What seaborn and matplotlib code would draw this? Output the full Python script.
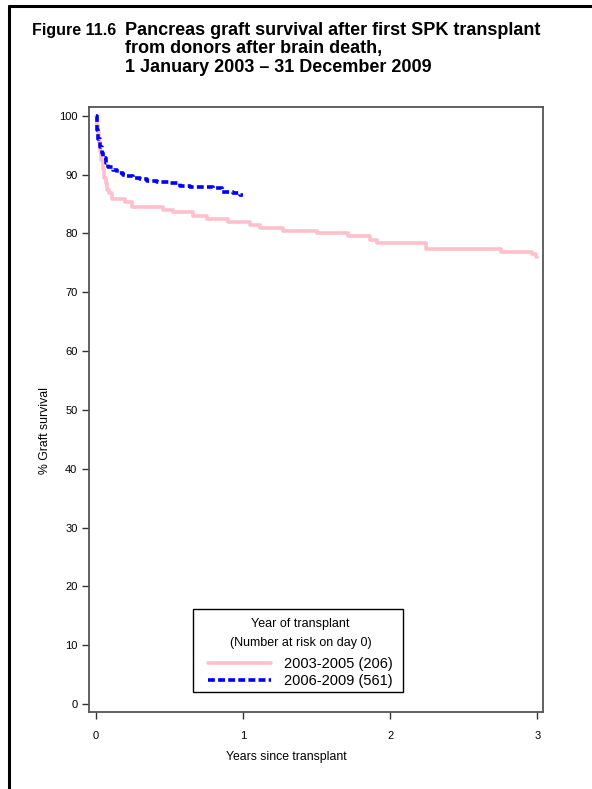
import matplotlib
matplotlib.use("Agg")
import matplotlib.pyplot as plt
from matplotlib.lines import Line2D
from matplotlib.patches import Rectangle
import seaborn as sns
import pandas as pd

# ---- data ----
pink_label = "2003-2005 (206)"
blue_label = "2006-2009 (561)"
pink_t = [0, 0.005, 0.012, 0.02, 0.027, 0.035, 0.045, 0.055, 0.065, 0.075, 0.09, 0.109,
          0.197, 0.245, 0.455, 0.523, 0.659, 0.755, 0.897, 1.047, 1.115, 1.271, 1.502,
          1.713, 1.863, 1.910, 2.243, 2.753, 2.964, 2.992, 3.0]
pink_s = [100, 98.5, 97, 95.5, 94, 92.5, 91, 89.5, 88.5, 87.4, 86.9, 85.9,
          85.4, 84.5, 84.0, 83.6, 83.0, 82.5, 82.0, 81.4, 80.95, 80.5, 80.0,
          79.5, 78.9, 78.45, 77.4, 76.9, 76.5, 76.0, 76.0]
blue_t = [0, 0.005, 0.015, 0.027, 0.04, 0.05, 0.065, 0.082, 0.116, 0.143, 0.184, 0.211,
          0.252, 0.299, 0.347, 0.415, 0.503, 0.571, 0.639, 0.795, 0.857, 0.931, 0.979, 1.0]
blue_s = [100, 97.6, 96, 94.7, 93.6, 92.9, 92.0, 91.3, 90.8, 90.3, 90.0, 89.8,
          89.5, 89.3, 89.0, 88.8, 88.5, 88.1, 87.9, 87.7, 87.1, 86.8, 86.6, 86.6]
x_ticks = [0, 1, 2, 3]
y_ticks = [0, 10, 20, 30, 40, 50, 60, 70, 80, 90, 100]

figure_label = "Figure 11.6"
title_lines = ["Pancreas graft survival after first SPK transplant",
               "from donors after brain death,",
               "1 January 2003 \u2013 31 December 2009"]

sns.set_theme(style="ticks")
plt.rcParams["font.family"] = ["Liberation Sans", "DejaVu Sans"]
plt.rcParams["text.color"] = "black"
plt.rcParams["axes.labelcolor"] = "black"

W, H = 592, 789
fig = plt.figure(figsize=(W / 100, H / 100), dpi=100)
ax = fig.add_axes([89 / W, 1 - 712 / H, (543 - 89) / W, (712 - 107) / H])

pink_df = pd.DataFrame({"t": pink_t, "s": pink_s})
blue_df = pd.DataFrame({"t": blue_t, "s": blue_s})
sns.lineplot(data=pink_df, x="t", y="s", ax=ax, color="#FFC0CB", linewidth=2.6,
             drawstyle="steps-post", estimator=None, sort=False, legend=False)
sns.lineplot(data=blue_df, x="t", y="s", ax=ax, color="#0000FF", linewidth=2.6,
             drawstyle="steps-post", estimator=None, sort=False, legend=False,
             linestyle=(0, (1.9, 0.9)))
if ax.get_legend() is not None:
    ax.get_legend().remove()

ax.set_xlim(-0.0476, 3.039)
ax.set_ylim(-1.36, 101.5)
ax.set_xticks(x_ticks)
ax.set_yticks(y_ticks)
ax.set_xticklabels([str(v) for v in x_ticks])
ax.set_yticklabels([str(v) for v in y_ticks])
for sp in ax.spines.values():
    sp.set_visible(True)
    sp.set_color("#555555")
    sp.set_linewidth(1.3)
ax.tick_params(axis="y", length=4.8, width=1, color="#333333", pad=3.5, labelsize=8,
               labelcolor="black")
ax.tick_params(axis="x", length=5, width=1, color="#333333", pad=9, labelsize=8,
               labelcolor="black")
ax.set_xlabel("Years since transplant", fontsize=8.8, color="black")
ax.set_ylabel("% Graft survival", fontsize=8.8, color="black")
ax.xaxis.set_label_coords((286 - 89) / 454, -(751 - 712) / 605)
ax.yaxis.set_label_coords((51 - 89) / 454, (712 - 431) / 605)

# Legend frame (fixed box) and frameless legend content
fig.add_artist(Rectangle((193 / W, 1 - 692 / H), (403 - 193) / W, (692 - 609) / H,
                         transform=fig.transFigure, facecolor="white",
                         edgecolor="black", linewidth=1.0, zorder=5))
handles = [Line2D([], [], color="#FFC0CB", linewidth=2.6),
           Line2D([], [], color="#0000FF", linewidth=2.6, linestyle=(0, (1.9, 0.9)))]
leg = fig.legend(handles, [pink_label, blue_label],
                 title="Year of transplant\n(Number at risk on day 0)",
                 loc="center", bbox_to_anchor=(300.5 / W, 1 - 653 / H),
                 bbox_transform=fig.transFigure, borderaxespad=0,
                 fontsize=10.5, title_fontsize=9, frameon=False,
                 handlelength=4.3, handletextpad=0.9,
                 labelspacing=0.22, borderpad=0.0, alignment="center")
leg.set_zorder(6)
leg.get_title().set_multialignment("center")
leg.get_title().set_linespacing(1.75)
leg._legend_box.sep = 6

# Title
fig.text(32 / W, 1 - 35 / H, figure_label, fontsize=11.5, fontweight="bold",
         ha="left", va="baseline", color="black")
for i, line in enumerate(title_lines):
    fig.text(125 / W, 1 - (35 + 18.3 * i) / H, line, fontsize=13, fontweight="bold",
             ha="left", va="baseline", color="black")

# Outer border (top and left only visible)
fig.add_artist(Line2D([9 / W, 9 / W], [0, 1 - 6 / H], transform=fig.transFigure,
                      color="black", linewidth=2.2))
fig.add_artist(Line2D([9 / W, 1], [1 - 6 / H, 1 - 6 / H], transform=fig.transFigure,
                      color="black", linewidth=2.2))

fig.savefig("out.png", dpi=100)
